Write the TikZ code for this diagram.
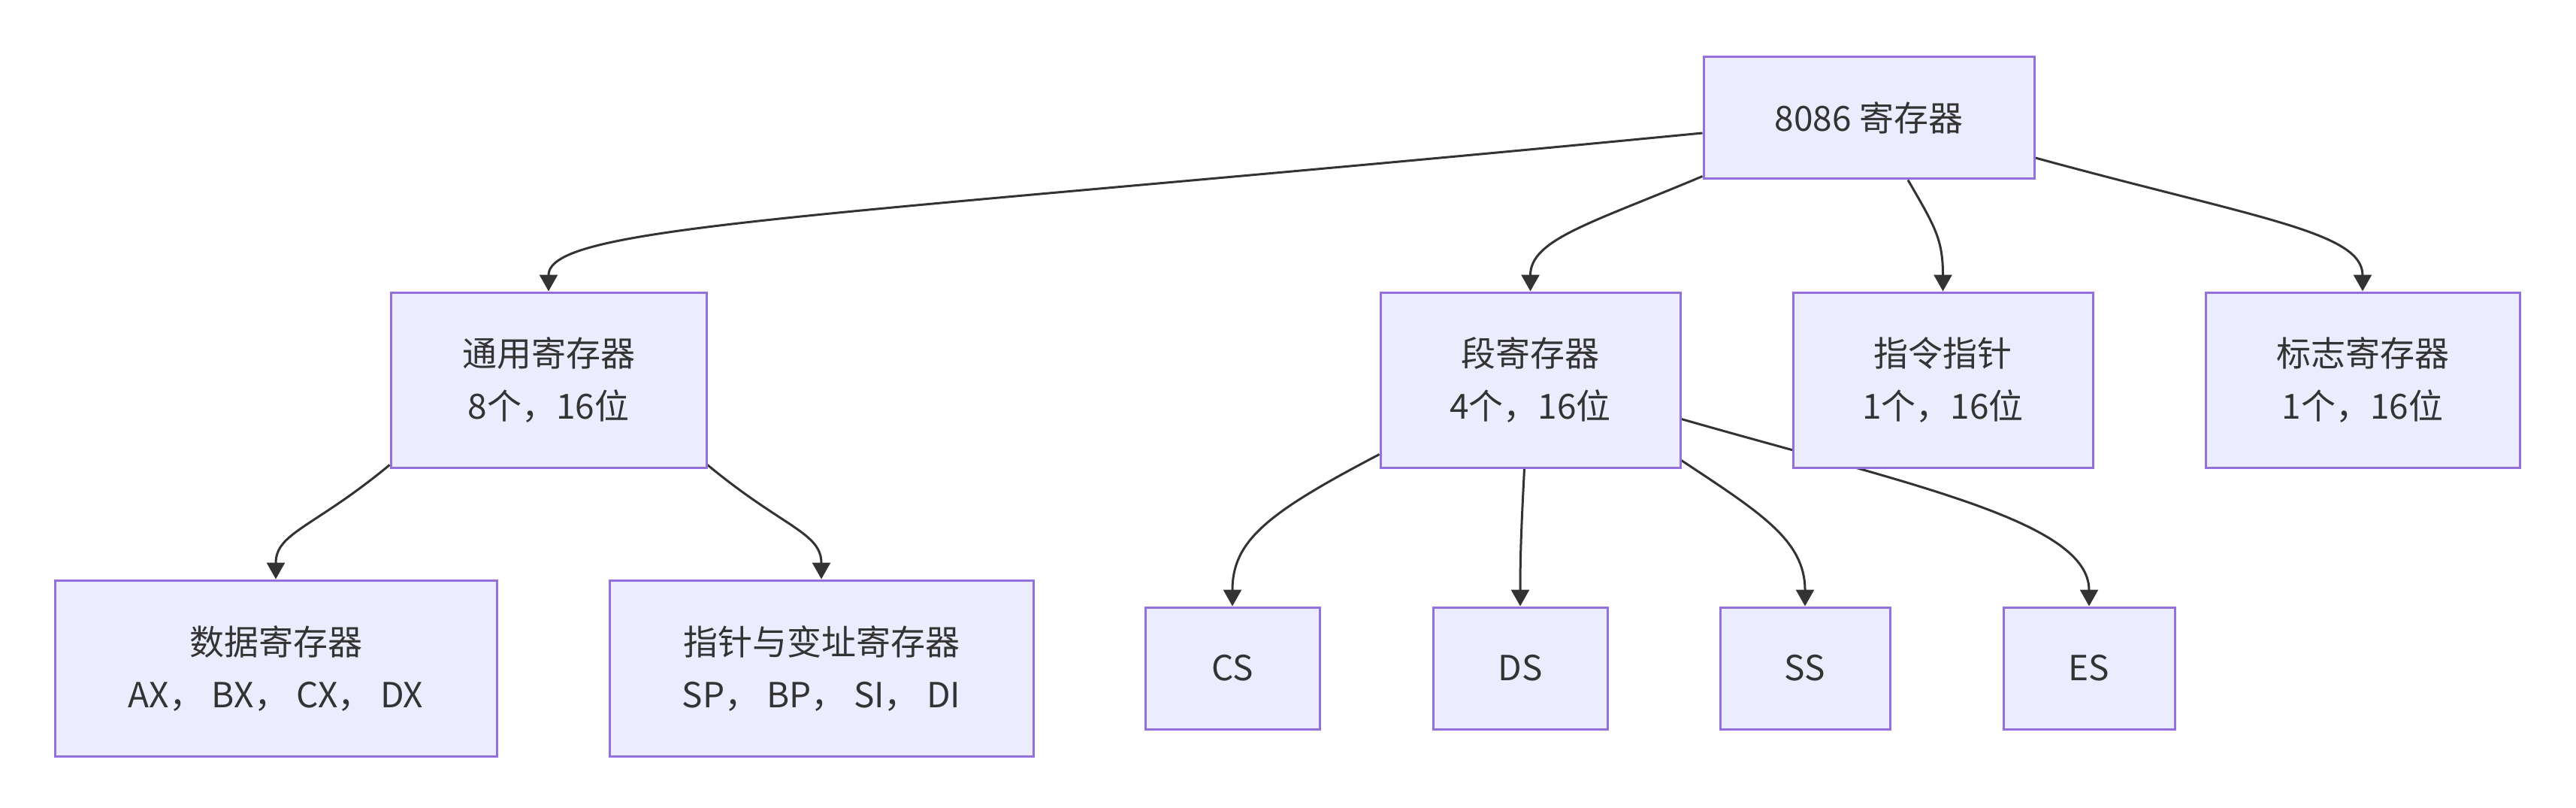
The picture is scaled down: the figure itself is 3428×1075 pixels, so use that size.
\documentclass[tikz,border=0pt]{standalone}
\usepackage{fontspec}
\setmainfont{Noto Sans CJK SC}
\usetikzlibrary{arrows.meta}
\definecolor{nodefill}{HTML}{ECECFF}
\definecolor{nodeborder}{HTML}{9370DB}
\definecolor{txt}{HTML}{333333}
\definecolor{edge}{HTML}{333333}
\pgfdeclarelayer{bottom}
\pgfdeclarelayer{background}
\pgfsetlayers{bottom,background,main}
\begin{document}
\begin{tikzpicture}[x=1pt,y=-1pt,
  box/.style={draw=nodeborder,fill=nodefill,line width=3pt,rectangle,inner sep=0pt,
    text=txt,align=center,font=\fontsize{46}{70}\selectfont},
  conn/.style={draw=edge,line width=3pt,-{Triangle[length=22pt,width=24pt]}}]
\useasboundingbox (0,0) rectangle (3428,1075);
\begin{pgfonlayer}{bottom}
\fill[white] (0,0) rectangle (3428,1075);
\end{pgfonlayer}
% top level
\node[box,minimum width=440pt,minimum height=162pt] (root) at (2487,157) {8086 寄存器};
% second level
\node[box,minimum width=420pt,minimum height=233pt] (gen) at (730,505.5) {通用寄存器\\8个，16位};
\node[box,minimum width=399pt,minimum height=233pt] (seg) at (2036.5,505.5) {段寄存器\\4个，16位};
\node[box,minimum width=399pt,minimum height=233pt] (ip) at (2585.5,505.5) {指令指针\\1个，16位};
\node[box,minimum width=418pt,minimum height=233pt] (flag) at (3144,505.5) {标志寄存器\\1个，16位};
% third level
\node[box,minimum width=588pt,minimum height=234pt] (data) at (367,889) {数据寄存器\\AX， BX， CX， DX};
\node[box,minimum width=564pt,minimum height=234pt] (ptr) at (1093,889) {指针与变址寄存器\\SP， BP， SI， DI};
\node[box,minimum width=232pt,minimum height=162pt] (cs) at (1640,889) {CS};
\node[box,minimum width=232pt,minimum height=162pt] (ds) at (2023,889) {DS};
\node[box,minimum width=226pt,minimum height=162pt] (ss) at (2402,889) {SS};
\node[box,minimum width=228pt,minimum height=162pt] (es) at (2780,889) {ES};
% connectors
\begin{pgfonlayer}{background}
\draw[conn] ([yshift=-20pt]root.west) .. controls +(-1167,113) and +(0,-89) .. (gen.north);
\draw[conn] ([yshift=5pt]root.south west) .. controls +(-147,62) and +(0,-69) .. (seg.north);
\draw[conn] ([xshift=52pt]root.south) .. controls +(36,62) and +(0,-69) .. (ip.north);
\draw[conn] ([yshift=-53pt]root.east) .. controls +(293,80) and +(0,-79) .. (flag.north);
\draw[conn] ([yshift=5pt]gen.south west) .. controls +(-100,83) and +(0,-62) .. (data.north);
\draw[conn] ([yshift=5pt]gen.south east) .. controls +(100,83) and +(0,-62) .. (ptr.north);
\draw[conn] ([yshift=19pt]seg.south west) .. controls +(-147,77) and +(0,-88) .. (cs.north);
\draw[conn] ([xshift=-8pt]seg.south) .. controls +(-4,78) and +(0,-68) .. (ds.north);
\draw[conn] ([yshift=11pt]seg.south east) .. controls +(104,69) and +(0,-88) .. (ss.north);
\draw[conn] ([yshift=-52pt]seg.east) .. controls +(304,87) and +(0,-113) .. (es.north);
\end{pgfonlayer}
\end{tikzpicture}
\end{document}
